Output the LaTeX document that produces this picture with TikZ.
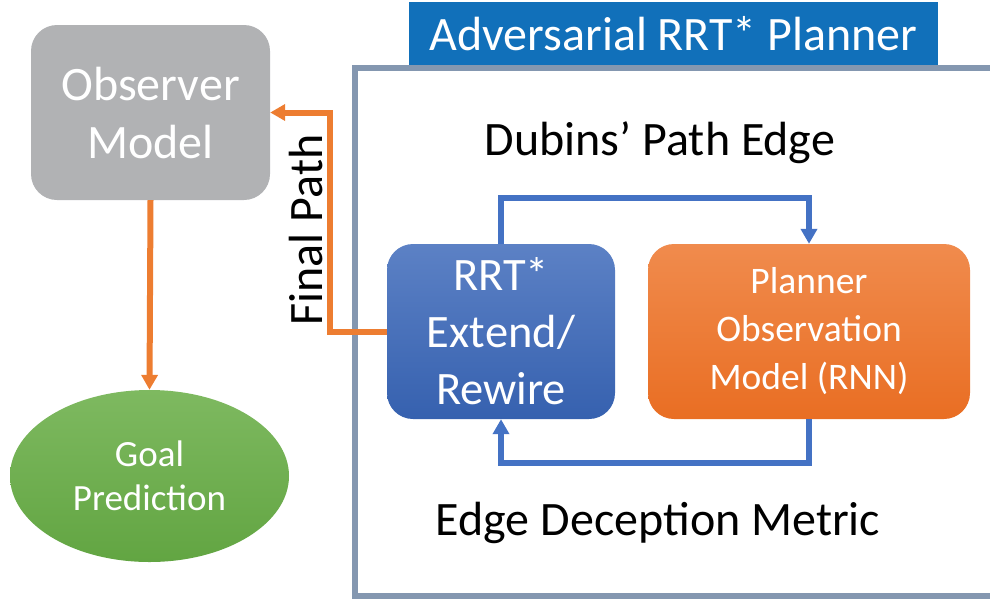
\documentclass[tikz,border=0pt]{standalone}
\usepackage{fontspec}
\setmainfont{Carlito}
\usetikzlibrary{arrows.meta,shapes.geometric}
\definecolor{obsgray}{RGB}{177,178,180}
\definecolor{framegray}{RGB}{132,151,176}
\definecolor{titleblue}{RGB}{17,112,186}
\definecolor{lineblue}{RGB}{68,114,196}
\definecolor{lineorange}{RGB}{237,125,49}
\definecolor{rrttop}{RGB}{92,129,197}
\definecolor{rrtbot}{RGB}{54,97,175}
\definecolor{plantop}{RGB}{240,139,77}
\definecolor{planbot}{RGB}{233,110,35}
\definecolor{goaltop}{RGB}{126,185,96}
\definecolor{goalbot}{RGB}{98,165,66}
\tikzset{
  box/.style={rounded corners=26pt, inner sep=0pt, align=center, text=white},
  bigtext/.style={font=\fontsize{48}{58}\selectfont},
  midtext/.style={font=\fontsize{37.5}{48}\selectfont},
  conn/.style={line width=6pt},
  tip/.style={-{Triangle[length=15pt,width=16pt]}},
}
\begin{document}
\begin{tikzpicture}[x=1pt,y=-1pt]
\useasboundingbox (0,0) rectangle (990,603);
\clip (0,0) rectangle (990,603);
% frame and title
\node[fill=titleblue, minimum width=529pt, minimum height=64pt, inner sep=0pt,
      text=white, bigtext] (title) at (673.5,34) {Adversarial RRT* Planner};
\draw[framegray, line width=6pt] (355,67.5) rectangle (1010,595.5);
% boxes
\node[box, fill=obsgray, minimum width=239pt, minimum height=175pt, bigtext]
  (obs) at (150.5,112.5) {Observer\\Model};
\node[ellipse, inner sep=0pt, minimum width=279pt, minimum height=172pt,
      top color=goaltop, bottom color=goalbot, text=white, align=center,
      font=\fontsize{37}{44}\selectfont]
  (goal) at (149.5,476) {Goal\\Prediction};
\node[box, top color=rrttop, bottom color=rrtbot, minimum width=228pt,
      minimum height=175pt, font=\fontsize{46.5}{57}\selectfont] (rrt) at (501,331.5) {RRT*\\Extend/\\Rewire};
\node[box, top color=plantop, bottom color=planbot, minimum width=322pt,
      minimum height=175pt, midtext] (plan) at (809,331.5)
  {Planner\\Observation\\Model (RNN)};
% labels
\node[bigtext] (dub) at (660,143) {Dubins’ Path Edge};
\node[bigtext] (edm) at (658,523) {Edge Deception Metric};
% connectors
\draw[conn, lineorange, tip] (obs.south) -- (goal.north);
\draw[conn, lineorange, tip] (rrt.west) -- ++(-57,0) coordinate (fp) |- (obs.east);
\node[bigtext, rotate=90, anchor=base] (fplabel) at (322,230) {Final Path};
\draw[conn, lineblue, tip] (rrt.north) -- ++(0,-46) -| (plan.north);
\draw[conn, lineblue, tip] (plan.south) -- ++(0,44) -| (rrt.south);
\end{tikzpicture}
\end{document}
